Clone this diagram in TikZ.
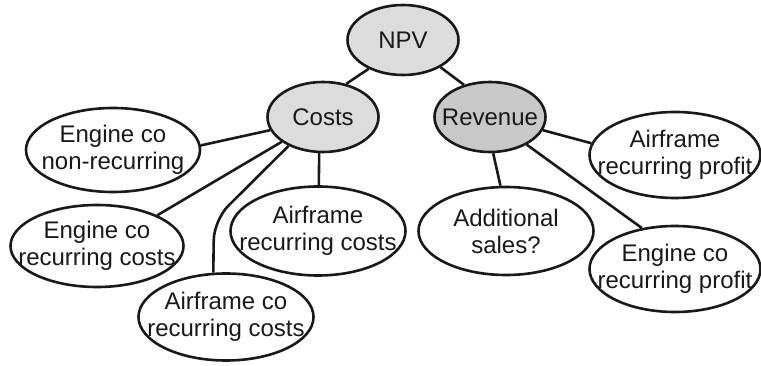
\documentclass[tikz,border=0pt]{standalone}
\usepackage{fontspec}
\setmainfont{Liberation Sans}
\usetikzlibrary{shapes.geometric,backgrounds}
\definecolor{lightfill}{RGB}{220,220,220}
\definecolor{darkfill}{RGB}{200,200,200}
\definecolor{inkc}{RGB}{25,25,25}
\begin{document}
\begin{tikzpicture}[x=1pt,y=-1pt,
  oval/.style={ellipse,draw=inkc,line width=2.6pt,inner sep=0pt},
  txt/.style={align=center,text=inkc,font=\fontsize{24}{27}\selectfont,inner sep=0pt},
  link/.style={draw=inkc,line width=2.6pt}]
\useasboundingbox (0,0) rectangle (761,366);
\node[oval,fill=lightfill,minimum width=111pt,minimum height=70pt,label={[txt]center:NPV}] (npv) at (403,40) {};
\node[oval,fill=lightfill,minimum width=111pt,minimum height=70pt,label={[txt]center:Costs}] (costs) at (323,117) {};
\node[oval,fill=darkfill,minimum width=111pt,minimum height=70pt,label={[txt]center:Revenue}] (rev) at (490,117) {};
\node[oval,fill=white,minimum width=174pt,minimum height=84pt,label={[txt]center:Engine co\\non-recurring}] (enr) at (113,150) {};
\node[oval,fill=white,minimum width=173pt,minimum height=82pt,label={[txt]center:Engine co\\recurring costs}] (erc) at (97,246) {};
\node[oval,fill=white,minimum width=175pt,minimum height=89pt,label={[txt]center:Airframe\\recurring costs}] (arc) at (318,231) {};
\node[oval,fill=white,minimum width=175pt,minimum height=87pt,label={[txt]center:Airframe co\\recurring costs}] (arco) at (226,317) {};
\node[oval,fill=white,minimum width=175pt,minimum height=88pt,label={[txt]center:Additional\\sales?}] (add) at (506,231) {};
\node[oval,fill=white,minimum width=171pt,minimum height=86pt,label={[txt]center:Airframe\\recurring profit}] (arp) at (675,155) {};
\node[oval,fill=white,minimum width=171pt,minimum height=86pt,label={[txt]center:Engine co\\recurring profit}] (ecp) at (675,269) {};
\coordinate (bend) at (214,220);
\begin{scope}[on background layer]
\path[link] (npv.220) -- (costs.55);
\path[link] (npv.324) -- (rev.129);
\path[link] (costs.194) -- (enr.3);
\path[link] (costs.211) -- (erc.27);
\path[link,rounded corners=20pt] (costs.220) -- (bend) -- (arco.106);
\path[link] (costs.264) -- (arc.89);
\path[link] (rev.275) -- (add.97);
\path[link] (rev.346) -- (arp.172);
\path[link] (rev.323) -- (ecp.129);
\end{scope}
\end{tikzpicture}
\end{document}
